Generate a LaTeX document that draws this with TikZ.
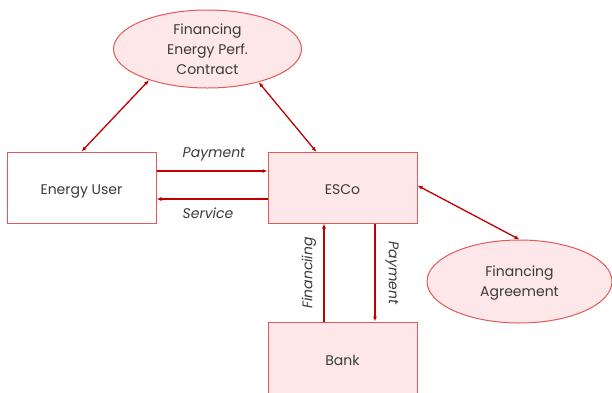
\documentclass[tikz,border=0pt]{standalone}
\usepackage{fontspec}
\setmainfont{Poppins}
\usetikzlibrary{shapes.geometric,arrows.meta,calc}
\definecolor{arrred}{HTML}{C00000}
\definecolor{boxred}{HTML}{E05A5A}
\definecolor{boxfill}{HTML}{FDE7E8}
\definecolor{txt}{HTML}{3A3A3A}
\newcommand{\lowtxt}[2]{\raisebox{-#1}[0pt][0pt]{#2}}
\tikzset{
  box/.style={draw=boxred, line width=1pt, minimum width=149pt, minimum height=71pt, inner sep=0pt, text=txt, font=\fontsize{14}{20}\selectfont},
  oval/.style={ellipse, draw=boxred, line width=1pt, fill=boxfill, inner sep=0pt, text=txt, align=center, font=\fontsize{14}{20}\selectfont},
  arr/.style={draw=arrred, line width=1.3pt, -{Latex[length=5pt,width=4pt]}},
  darr/.style={draw=arrred, line width=1.3pt, {Latex[length=5pt,width=4pt]}-{Latex[length=5pt,width=4pt]}},
  lbl/.style={text=txt, font=\fontsize{14}{18}\selectfont\itshape, inner sep=0pt}
}
\begin{document}
\begin{tikzpicture}[x=1pt,y=-1pt]
\useasboundingbox (0,0) rectangle (612,392);
\fill[white] (0,0) rectangle (612,392);
\begin{scope}
\clip (0,0) rectangle (612,392);
\node[box, fill=white] (eu) at (81.5,187.5) {\lowtxt{6.5pt}{Energy User}};
\node[box, fill=boxfill] (esco) at (342.5,187.5) {\lowtxt{6.5pt}{ESCo}};
\node[box, fill=boxfill, minimum height=74pt] (bank) at (342.5,359) {\lowtxt{6pt}{Bank}};
\node[oval, minimum width=188pt, minimum height=78pt] (fepc) at (207.5,49) {Financing\\Energy Perf.\\Contract};
\node[oval, minimum width=185pt, minimum height=83pt] (fa) at (519.5,281.5) {\lowtxt{5pt}{\begin{tabular}{@{}c@{}}Financing\\Agreement\end{tabular}}};
\coordinate (escotop) at (316.5,152);
\draw[darr] (eu.north) -- (fepc.208);
\draw[darr] (escotop) -- (fepc.327);
\draw[darr] ([yshift=2pt]esco.east) -- (fa.north);
\draw[arr] (eu.east |- 0,171) -- (esco.west |- 0,171);
\draw[arr] (esco.west |- 0,199) -- (eu.east |- 0,199);
\draw[arr] (bank.north -| 324,0) -- (esco.south -| 324,0);
\draw[arr] (esco.south -| 375,0) -- (bank.north -| 375,0);
\node[lbl] (lpay) at (214,154) {Payment};
\node[lbl] (lserv) at (208,213) {Service};
\node[lbl, rotate=90] (lfin) at (309,273) {Financiing};
\node[lbl, rotate=-90] (lpay2) at (392,273) {Payment};
\end{scope}
\end{tikzpicture}
\end{document}
